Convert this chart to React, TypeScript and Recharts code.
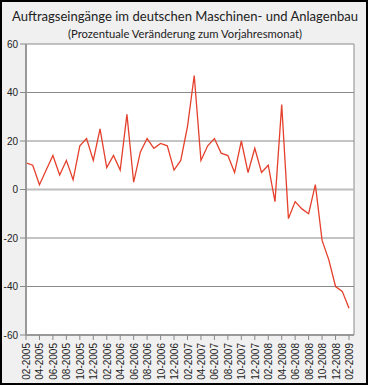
import React from "react";
import { LineChart, Line, XAxis, YAxis, CartesianGrid, ReferenceLine } from "recharts";

const months: string[] = [
  "02-2005", "03-2005", "04-2005", "05-2005", "06-2005", "07-2005", "08-2005", "09-2005", "10-2005", "11-2005", "12-2005", "01-2006",
  "02-2006", "03-2006", "04-2006", "05-2006", "06-2006", "07-2006", "08-2006", "09-2006", "10-2006", "11-2006", "12-2006", "01-2007",
  "02-2007", "03-2007", "04-2007", "05-2007", "06-2007", "07-2007", "08-2007", "09-2007", "10-2007", "11-2007", "12-2007", "01-2008",
  "02-2008", "03-2008", "04-2008", "05-2008", "06-2008", "07-2008", "08-2008", "09-2008", "10-2008", "11-2008", "12-2008", "01-2009",
  "02-2009",
];

const changes: number[] = [
  11, 10, 2, 8, 14, 6, 12, 4, 18, 21, 12, 25,
  9, 14, 8, 31, 3, 15.5, 21, 17, 19, 18, 8, 12,
  26, 47, 12, 18, 21, 15, 14, 7, 20, 7, 17, 7,
  10, -5, 35, -12, -5, -8, -10, 2, -21, -29, -40, -42,
  -49,
];

const yTicks: number[] = [-60, -40, -20, 0, 20, 40, 60];

const titleText = "Auftragseingänge im deutschen Maschinen- und Anlagenbau";
const subtitleText = "(Prozentuale Veränderung zum Vorjahresmonat)";

const data = months.map((m, i) => ({ month: m, v: changes[i] }));

const FONT = "'Liberation Sans', Arial, sans-serif";
const TITLE_FONT = "Lato, 'Open Sans', 'Liberation Sans', sans-serif";

const XTick = (props: any) => {
  const { x, y, payload } = props;
  return (
    <g transform={`translate(${x},${y}) rotate(-90)`}>
      <text x={0} y={0} dy="0.4em" textAnchor="end" fontSize={10} fontFamily={FONT} fill="#222">
        {payload.value}
      </text>
    </g>
  );
};

export default function App() {
  return (
    <div
      style={{
        position: "absolute",
        left: 0,
        top: 0,
        width: 368,
        height: 385,
        background: "#f0f0f0",
        boxShadow: "inset 0 0 0 2px #000",
      }}
    >
      <svg width={368} height={44} style={{ position: "absolute", left: 0, top: 0 }}>
        <text
          x={185}
          y={21}
          textAnchor="middle"
          fontSize={13.2}
          fontFamily={TITLE_FONT}
          fill="#222"
          textLength={346}
          lengthAdjust="spacingAndGlyphs"
        >
          {titleText}
        </text>
        <text
          x={185}
          y={37.5}
          textAnchor="middle"
          fontSize={11}
          fontFamily={TITLE_FONT}
          fill="#222"
          textLength={234}
          lengthAdjust="spacingAndGlyphs"
        >
          {subtitleText}
        </text>
      </svg>
      <div style={{ position: "absolute", left: 0, top: 0 }}>
        <LineChart width={368} height={385} data={data} margin={{ top: 44, right: 14, bottom: 0, left: 0 }}>
          <CartesianGrid
            fill="#ffffff"
            stroke="#8a8a8a"
            strokeWidth={1}
            verticalCoordinatesGenerator={(args: any) => [args.offset.left, args.offset.left + args.offset.width]}
          />
          <ReferenceLine y={0} stroke="#bdbdbd" strokeWidth={2} />
          <XAxis
            dataKey="month"
            interval={1}
            height={50}
            padding={{ left: 0, right: 5 }}
            tickSize={5}
            tickMargin={3}
            tick={<XTick />}
            stroke="#999"
            axisLine={{ stroke: "#999", strokeWidth: 2 }}
            tickLine={{ stroke: "#888" }}
          />
          <YAxis
            domain={[-60, 60]}
            ticks={yTicks}
            width={26}
            tickSize={6}
            tickMargin={2}
            tick={{ fontSize: 10, fontFamily: FONT, fill: "#222" }}
            axisLine={{ stroke: "#999", strokeWidth: 2 }}
            tickLine={{ stroke: "#888" }}
            allowDataOverflow
          />
          <Line
            type="linear"
            dataKey="v"
            stroke="#e5402b"
            strokeWidth={1.3}
            dot={false}
            isAnimationActive={false}
          />
        </LineChart>
      </div>
    </div>
  );
}
